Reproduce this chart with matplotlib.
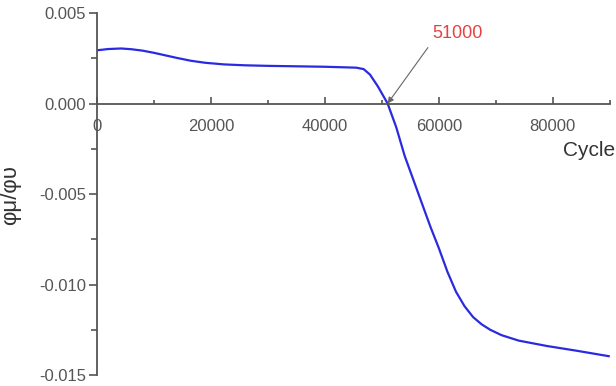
import matplotlib
matplotlib.use("Agg")
import matplotlib.pyplot as plt
import numpy as np

plt.rcParams['font.family'] = ['Liberation Sans', 'DejaVu Sans']

# curve
cycles = [0, 2000, 4200, 6000, 8000, 10000, 12000, 14000, 16500, 19000, 22300,
          26000, 30000, 34000, 40000, 45500, 46800, 47900, 49300, 51000,
          52500, 54000, 55500, 57000, 58500, 60000, 61500, 63000, 64500,
          66000, 67500, 69000, 71000, 74000, 79000, 84000, 89800]
slope = [0.00294, 0.00301, 0.00304, 0.00300, 0.00292, 0.00280, 0.00266, 0.00252,
         0.00236, 0.00225, 0.00216, 0.00211, 0.00208, 0.00206, 0.00203, 0.00198,
         0.00190, 0.00160, 0.00094, 0.0,
         -0.0013, -0.0029, -0.0042, -0.0055, -0.0068, -0.0080, -0.0093, -0.0104,
         -0.0112, -0.0118, -0.0122, -0.0125, -0.0128, -0.0131, -0.0134, -0.01365,
         -0.01396]

cross_x = 51000
cross_label = "51000"

fig = plt.figure(figsize=(6.16, 3.86), dpi=100)
ax = fig.add_axes([0.1575, 0.0285, 0.8325, 0.9378])

ax.plot(cycles, slope, color='#2a2ae0', lw=1.6)

ax.set_xlim(0, 90000)
ax.set_ylim(-0.015, 0.005)

# left spine, and the x axis drawn along y = 0
ax.spines['top'].set_visible(False)
ax.spines['right'].set_visible(False)
ax.spines['bottom'].set_position(('data', 0))
for s in ('left', 'bottom'):
    ax.spines[s].set_color('#555555')
    ax.spines[s].set_linewidth(1.3)

ax.set_xticks([0, 20000, 40000, 60000, 80000])
ax.set_xticks(np.arange(10000, 90001, 20000), minor=True)
ax.set_yticks([-0.015, -0.010, -0.005, 0.000, 0.005])
ax.set_yticks([-0.0125, -0.0075, -0.0025, 0.0025], minor=True)
ax.yaxis.set_major_formatter(matplotlib.ticker.FormatStrFormatter('%.3f'))

ax.tick_params(axis='x', which='both', direction='in', colors='#555555',
               labelcolor='#555555', labelsize=12, pad=11)
ax.tick_params(axis='x', which='major', length=5, width=1.2)
ax.tick_params(axis='x', which='minor', length=3, width=1.2)
ax.tick_params(axis='y', which='both', direction='out', colors='#555555',
               labelcolor='#555555', labelsize=12, pad=2)
ax.tick_params(axis='y', which='major', length=6, width=1.2)
ax.tick_params(axis='y', which='minor', length=4, width=1.2)

fig.text(0.999, 0.596, "Cycle", fontsize=15, color='#333333',
         ha='right', va='baseline')
fig.text(0.018, 0.495, "φμ/φυ", rotation=90, fontsize=16, color='#333333',
         ha='center', va='center')

ax.text(63300, 0.00387, cross_label, color='#e84040', fontsize=13,
        ha='center', va='center')
ax.annotate("", xy=(cross_x, 0), xytext=(58070, 0.00309),
            arrowprops=dict(arrowstyle='-|>', color='#666666', lw=0.8,
                            mutation_scale=9, shrinkA=0, shrinkB=0))

fig.savefig("out.png", dpi=100)
